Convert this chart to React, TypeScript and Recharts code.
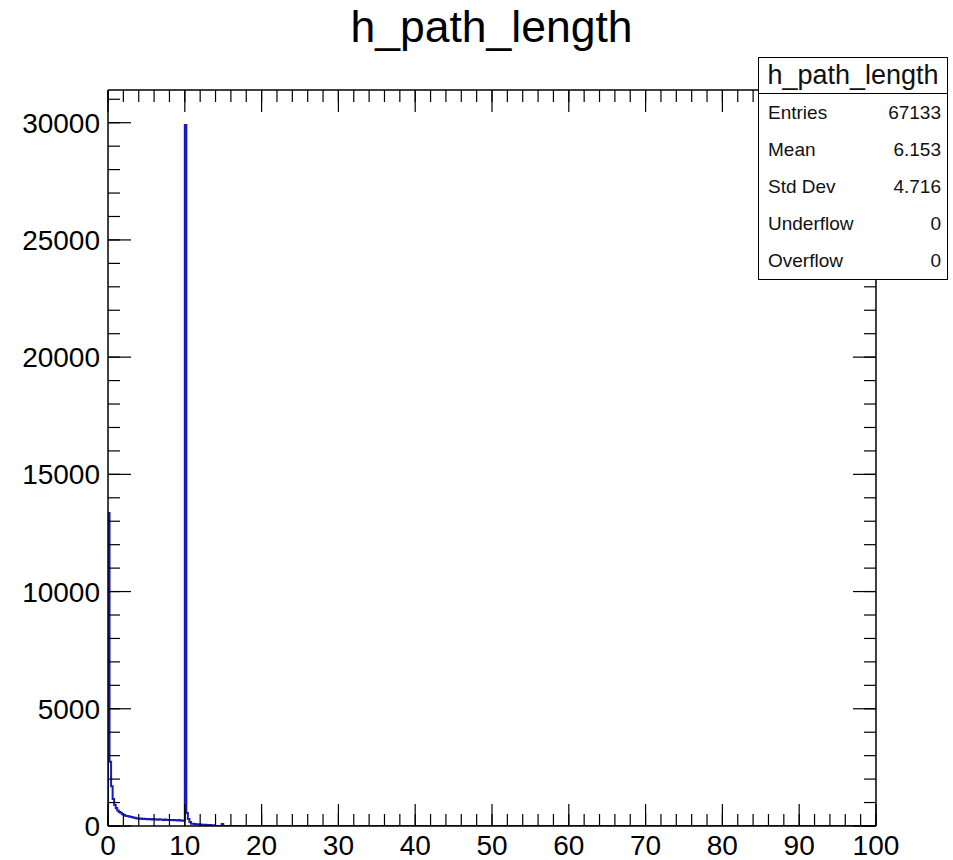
import { LineChart, Line, XAxis, YAxis } from 'recharts';

// histogram h_path_length, bins of 0.2 starting at 0 (empty above 15)
const binWidth = 0.2;
const counts = [
  13350, 2740, 1700, 1150, 900, 770, 660, 600, 560, 510,
  470, 440, 430, 410, 390, 380, 360, 350, 330, 320,
  310, 320, 300, 310, 300, 290, 300, 290, 280, 300,
  290, 280, 270, 290, 280, 270, 260, 280, 260, 250,
  260, 250, 240, 260, 240, 230, 250, 230, 220, 230,
  29900, 550, 300, 170, 100, 90, 80, 70, 70, 60,
  60, 50, 50, 50, 40, 40, 40, 30, 30, 0,
  0, 0, 0, 0, 80, 0,
];

const xMajorTicks = [0, 10, 20, 30, 40, 50, 60, 70, 80, 90, 100];
const xMinorTicks = [
  0, 2, 4, 6, 8, 10, 12, 14, 16, 18, 20, 22, 24, 26, 28, 30, 32, 34, 36, 38, 40,
  42, 44, 46, 48, 50, 52, 54, 56, 58, 60, 62, 64, 66, 68, 70, 72, 74, 76, 78, 80,
  82, 84, 86, 88, 90, 92, 94, 96, 98, 100,
];
const yMajorTicks = [0, 5000, 10000, 15000, 20000, 25000, 30000];
const yMinorTicks = [
  0, 1000, 2000, 3000, 4000, 5000, 6000, 7000, 8000, 9000, 10000, 11000, 12000,
  13000, 14000, 15000, 16000, 17000, 18000, 19000, 20000, 21000, 22000, 23000,
  24000, 25000, 26000, 27000, 28000, 29000, 30000, 31000,
];
const yMax = 31395;

const histName = 'h_path_length';
const statLabels = ['Entries', 'Mean', 'Std Dev', 'Underflow', 'Overflow'];
const statValues = ['67133', '6.153', '4.716', '0', '0'];

const rows = [
  { x: 0, count: 0 },
  ...counts.map((c, i) => ({ x: +(i * binWidth).toFixed(1), count: c })),
  { x: +(counts.length * binWidth).toFixed(1), count: 0 },
  { x: 100, count: 0 },
];

const font = '"Liberation Sans", Arial, Helvetica, sans-serif';
const axisStroke = { stroke: '#000', strokeWidth: 1.5 };
const thin = 0.01; // axes must have a non-zero size to be drawn
const MAJOR = 22;
const MINOR = 12;

// ROOT style ticks point into the frame; labels drawn by the same renderer
function tickRenderer(side: 'bottom' | 'top' | 'left' | 'right', size: number, withLabel: boolean) {
  return (p: any) => {
    const { x, y, payload } = p;
    let x2 = x, y2 = y;
    if (side === 'bottom') y2 = y - size;
    if (side === 'top') y2 = y + size;
    if (side === 'left') x2 = x + size;
    if (side === 'right') x2 = x - size;
    return (
      <g>
        <line x1={x} y1={y} x2={x2} y2={y2} stroke="#000" strokeWidth={1.2} />
        {withLabel && side === 'bottom' && (
          <text x={x} y={y + 29} textAnchor="middle" fontSize={28} fontFamily={font} fill="#000">{payload.value}</text>
        )}
        {withLabel && side === 'left' && (
          <text x={x - 8} y={y} dy="0.36em" textAnchor="end" fontSize={28} fontFamily={font} fill="#000">{payload.value}</text>
        )}
      </g>
    );
  };
}

export default function App() {
  return (
    <div style={{ position: 'absolute', left: 0, top: 0, width: 953, height: 860, background: '#fff', fontFamily: font }}>
      <div style={{ position: 'absolute', left: 0, width: 983, top: 3, textAlign: 'center', fontSize: 44.5, color: '#000', lineHeight: '48px' }}>
        {histName}
      </div>
      <LineChart width={953} height={860} data={rows} margin={{ top: 90, right: 77, bottom: 34, left: 108 }}>
        <XAxis xAxisId="main" type="number" dataKey="x" domain={[0, 100]} allowDataOverflow ticks={xMajorTicks}
          interval={0} height={thin} tickSize={0} tickMargin={0} axisLine={axisStroke} tickLine={false}
          tick={tickRenderer('bottom', MAJOR, true)} />
        <XAxis xAxisId="minor" type="number" dataKey="x" domain={[0, 100]} allowDataOverflow ticks={xMinorTicks}
          interval={0} height={thin} tickSize={0} tickMargin={0} axisLine={false} tickLine={false}
          tick={tickRenderer('bottom', MINOR, false)} />
        <XAxis xAxisId="topMajor" orientation="top" type="number" dataKey="x" domain={[0, 100]} allowDataOverflow ticks={xMajorTicks}
          interval={0} height={thin} tickSize={0} tickMargin={0} axisLine={axisStroke} tickLine={false}
          tick={tickRenderer('top', MAJOR, false)} />
        <XAxis xAxisId="topMinor" orientation="top" type="number" dataKey="x" domain={[0, 100]} allowDataOverflow ticks={xMinorTicks}
          interval={0} height={thin} tickSize={0} tickMargin={0} axisLine={false} tickLine={false}
          tick={tickRenderer('top', MINOR, false)} />
        <YAxis yAxisId="main" type="number" domain={[0, yMax]} allowDataOverflow ticks={yMajorTicks}
          interval={0} width={thin} tickSize={0} tickMargin={0} axisLine={axisStroke} tickLine={false}
          tick={tickRenderer('left', MAJOR + 1, true)} />
        <YAxis yAxisId="minor" type="number" domain={[0, yMax]} allowDataOverflow ticks={yMinorTicks}
          interval={0} width={thin} tickSize={0} tickMargin={0} axisLine={false} tickLine={false}
          tick={tickRenderer('left', MINOR, false)} />
        <YAxis yAxisId="rightMajor" orientation="right" type="number" domain={[0, yMax]} allowDataOverflow ticks={yMajorTicks}
          interval={0} width={thin} tickSize={0} tickMargin={0} axisLine={axisStroke} tickLine={false}
          tick={tickRenderer('right', MAJOR + 1, false)} />
        <YAxis yAxisId="rightMinor" orientation="right" type="number" domain={[0, yMax]} allowDataOverflow ticks={yMinorTicks}
          interval={0} width={thin} tickSize={0} tickMargin={0} axisLine={false} tickLine={false}
          tick={tickRenderer('right', MINOR, false)} />
        <Line xAxisId="main" yAxisId="main" type="stepAfter" dataKey="count" stroke="#1a1ab4" strokeWidth={2}
          dot={false} activeDot={false} isAnimationActive={false} />
      </LineChart>
      <div style={{ position: 'absolute', left: 758, top: 57, width: 188, height: 221, border: '1.5px solid #000', background: '#fff', color: '#111' }}>
        <div style={{ height: 35, borderBottom: '1.5px solid #000', textAlign: 'center', fontSize: 27, lineHeight: '34px' }}>
          {histName}
        </div>
        {statLabels.map((l, i) => (
          <div key={l} style={{ height: 37, display: 'flex', justifyContent: 'space-between', alignItems: 'center', padding: '0 6px 0 9px', fontSize: 19 }}>
            <span>{l}</span>
            <span>{statValues[i]}</span>
          </div>
        ))}
      </div>
    </div>
  );
}
